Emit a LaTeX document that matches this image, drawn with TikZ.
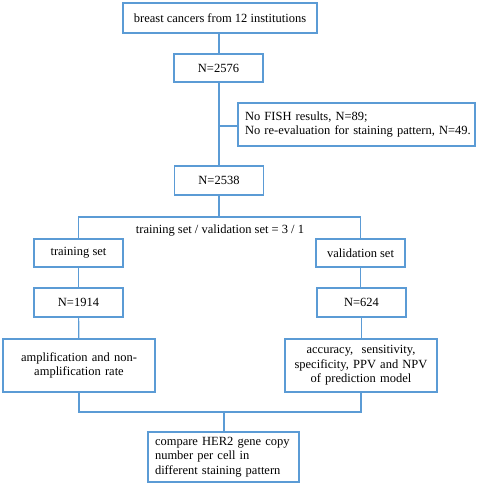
\documentclass[tikz,border=0pt]{standalone}
\usepackage{fontspec}
\setmainfont{Liberation Serif}
\usepackage{tikz}
\usetikzlibrary{positioning, calc}
\definecolor{FlowBlue}{RGB}{91,155,213}

\begin{document}
\begin{tikzpicture}[
  x=1pt, y=-1pt,
  box/.style={draw=FlowBlue, line width=1.8pt, fill=white,
              minimum width=89pt, minimum height=28pt,
              inner sep=3pt, font=\fontsize{12.5}{14.5}\selectfont, align=center},
  widebox/.style={box, minimum width=152pt, minimum height=53pt, text width=144pt},
  link/.style={draw=FlowBlue, line width=1.2pt},
]
\useasboundingbox (0,0) rectangle (478,486);

\node[box, minimum width=194pt, minimum height=30pt] (src) at (220,18) {breast cancers from 12 institutions};
\node[box] (all) at (218.5,68) {N=2576};
\node[box, minimum height=43pt, text width=229pt, inner xsep=4pt, align=left] (excl) at (356.5,124.5)
  {\hspace*{3pt}No FISH results, N=89;\\\hspace*{3pt}No re-evaluation for staining pattern, N=49.};
\node[box, minimum height=29pt] (kept) at (219,180.5) {N=2538};
\node[font=\fontsize{12.5}{14.5}\selectfont] (ratio) at (220,231) {training set / validation set = 3 / 1};
\node[box] (train) at (78.5,253) {training set};
\node[box] (valid) at (360.5,253) {validation set};
\node[box, minimum height=29pt] (ntrain) at (78.5,302.5) {N=1914};
\node[box, minimum height=29pt] (nvalid) at (361.5,302.5) {N=624};
\node[widebox] (amp) at (79,365.5) {amplification and non-\\amplification rate};
\node[widebox] (acc) at (361,365.5) {accuracy,~ sensitivity,\\specificity, PPV and NPV\\of prediction model};
\node[box, minimum width=151pt, minimum height=50pt, text width=137pt, align=left] (cmp) at (223.5,457)
  {compare HER2 gene copy\\number per cell in\\different staining pattern};

\coordinate (drop) at (219,126);
\coordinate (split) at (219,217);
\coordinate (merge) at (224,412);

\draw[link] (src.south -| kept) -- (all.north -| kept);
\draw[link] (all.south -| kept) -- (kept.north);
\draw[link] (drop) -- (excl.west |- drop);
\draw[link] (kept.south) -- (split);
\draw[link] (train.north) |- (split) -| (valid.north);
\draw[link] (train) -- (ntrain);
\draw[link] (valid.south) -- (valid.south |- nvalid.north);
\draw[link] (ntrain) -- (amp);
\draw[link] (nvalid.south) -- (nvalid.south |- acc.north);
\draw[link] (amp.south) |- (merge) -| (acc.south);
\draw[link] (merge) -- (cmp.north -| merge);
\end{tikzpicture}
\end{document}
